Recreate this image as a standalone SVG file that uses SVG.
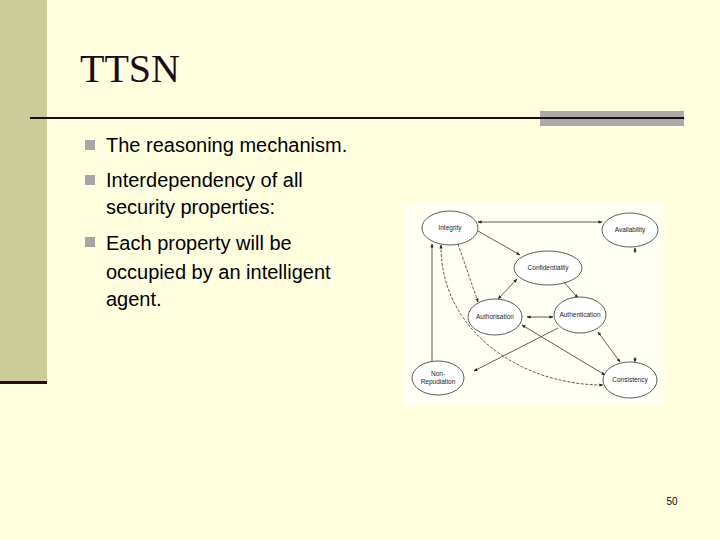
<svg xmlns="http://www.w3.org/2000/svg" width="720" height="540" viewBox="0 0 720 540">
<defs>
<marker id="a" viewBox="0 0 10 10" refX="9" refY="5" markerWidth="5" markerHeight="5" orient="auto-start-reverse"><path d="M0,1 L10,5 L0,9 z" fill="#222"/></marker>
<style>
.b{font-family:"Liberation Sans",Arial,sans-serif;font-size:20px;fill:#000}
.n{fill:#fff;stroke:#333;stroke-width:0.8}
.t{font-family:"Liberation Sans",Arial,sans-serif;font-size:6.5px;fill:#222;text-anchor:middle}
.e{stroke:#333;stroke-width:0.8;fill:none}
.sq{fill:#a6a6a6}
</style>
</defs>
<rect width="720" height="540" fill="#ffffe0"/>
<rect x="0" y="0" width="47" height="383" fill="#cccc99"/>
<rect x="0" y="381" width="47" height="3" fill="#2a0a1a"/>
<text x="80" y="82" font-family="Liberation Serif,serif" font-size="40" fill="#1f0a1a">TTSN</text>
<rect x="540" y="111" width="144" height="15" fill="#aaaaaa"/>
<rect x="30" y="117" width="654" height="2" fill="#1f0a1a"/>
<rect class="sq" x="85" y="140" width="10" height="10"/>
<rect class="sq" x="85" y="175" width="10" height="10"/>
<rect class="sq" x="85" y="237" width="10" height="10"/>
<text class="b" x="106" y="152">The reasoning mechanism.</text>
<text class="b" x="106" y="187">Interdependency of all</text>
<text class="b" x="106" y="214">security properties:</text>
<text class="b" x="106" y="250">Each property will be</text>
<text class="b" x="106" y="279">occupied by an intelligent</text>
<text class="b" x="106" y="306">agent.</text>
<text x="672" y="505" font-family="Liberation Sans,Arial,sans-serif" font-size="10" text-anchor="middle">50</text>
<rect x="404" y="203" width="260" height="202" fill="#fffff4"/>
<g id="connectors">
<line class="e" x1="478" y1="222" x2="602" y2="222" marker-start="url(#a)" marker-end="url(#a)"/>
<line class="e" x1="478" y1="231" x2="520" y2="255" marker-end="url(#a)"/>
<line class="e" x1="458" y1="244" x2="478" y2="302" marker-end="url(#a)" stroke-dasharray="3,1.5"/>
<line class="e" x1="432" y1="366" x2="432" y2="244" marker-end="url(#a)"/>
<line class="e" x1="517" y1="279" x2="498" y2="299" marker-start="url(#a)" marker-end="url(#a)"/>
<line class="e" x1="562" y1="280" x2="578" y2="298" marker-start="url(#a)" marker-end="url(#a)"/>
<line class="e" x1="527" y1="317" x2="553" y2="317" marker-start="url(#a)" marker-end="url(#a)"/>
<line class="e" x1="558" y1="328" x2="474" y2="371" marker-end="url(#a)"/>
<line class="e" x1="522" y1="325" x2="605" y2="375" marker-start="url(#a)" marker-end="url(#a)"/>
<line class="e" x1="598" y1="332" x2="620" y2="362" marker-start="url(#a)" marker-end="url(#a)"/>
<path class="e" d="M441,245 C440,330 520,385 603,385" marker-start="url(#a)" marker-end="url(#a)" stroke-dasharray="3,1.5"/>
<line class="e" x1="635" y1="253" x2="635" y2="248" marker-end="url(#a)"/>
<line class="e" x1="635" y1="357" x2="635" y2="362" marker-end="url(#a)"/>
</g>
<g id="integrity"><ellipse class="n" cx="450" cy="228" rx="28" ry="17"/><text class="t" x="450" y="230">Integrity</text></g>
<g id="availability"><ellipse class="n" cx="630" cy="230" rx="28" ry="17"/><text class="t" x="630" y="232">Availability</text></g>
<g id="confidentiality"><ellipse class="n" cx="548" cy="268" rx="34" ry="17"/><text class="t" x="548" y="270">Confidentiality</text></g>
<g id="authorisation"><ellipse class="n" cx="495" cy="317" rx="27" ry="18"/><text class="t" x="495" y="319">Authorisation</text></g>
<g id="authentication"><ellipse class="n" cx="580" cy="315" rx="26" ry="18"/><text class="t" x="580" y="317">Authentication</text></g>
<g id="nonrepudiation"><ellipse class="n" cx="438" cy="378" rx="26" ry="17"/><text class="t" x="438" y="376">Non-</text><text class="t" x="438" y="384">Repudiation</text></g>
<g id="consistency"><ellipse class="n" cx="630" cy="380" rx="27" ry="18"/><text class="t" x="630" y="382">Consistency</text></g>
</svg>
